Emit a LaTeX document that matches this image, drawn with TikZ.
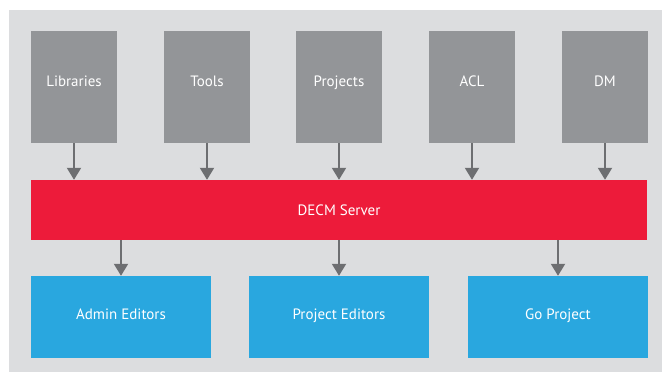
\documentclass[tikz,border=0pt]{standalone}
\usepackage{fontspec}
\setmainfont{PT Sans}
\usetikzlibrary{arrows.meta}
\definecolor{bg}{HTML}{DCDDDF}
\definecolor{boxgray}{HTML}{939598}
\definecolor{srvred}{HTML}{ED1B3A}
\definecolor{edblue}{HTML}{29A7DF}
\definecolor{arrgray}{HTML}{6D6E71}
\begin{document}
\begin{tikzpicture}[x=1pt,y=-1pt,
  lbl/.style={draw=none,text=white,font=\fontsize{15}{17}\selectfont,inner sep=0pt,text height=10.5pt},
  src/.style={lbl,fill=boxgray,minimum width=86pt,minimum height=112pt,text depth=12pt},
  srv/.style={lbl,fill=srvred,minimum width=616pt,minimum height=60pt,text depth=0pt},
  ed/.style={lbl,fill=edblue,minimum width=180pt,minimum height=82pt,text depth=6pt},
  arr/.style={draw=arrgray,line width=2pt,-{Triangle[length=12pt,width=14pt]}}]
\useasboundingbox (0,0) rectangle (662,372);
\fill[white] (0,0) rectangle (662,372);
\fill[bg] (9,10) rectangle (662,372);
\node[src] (lib) at (74,87) {Libraries};
\node[src] (tools) at (207,87) {Tools};
\node[src] (proj) at (339,87) {Projects};
\node[src] (acl) at (472,87) {ACL};
\node[src] (dm) at (605,87) {DM};
\node[srv] (srv) at (339,210) {DECM Server};
\node[ed] (admin) at (121,317) {Admin Editors};
\node[ed] (pe) at (339,317) {Project Editors};
\node[ed] (go) at (558,317) {Go Project};
\foreach \n in {lib,tools,proj,acl,dm}
  \draw[arr] (\n.south) -- (\n.south |- srv.north);
\foreach \n in {admin,pe,go}
  \draw[arr] (\n.north |- srv.south) -- (\n.north);
\end{tikzpicture}
\end{document}
